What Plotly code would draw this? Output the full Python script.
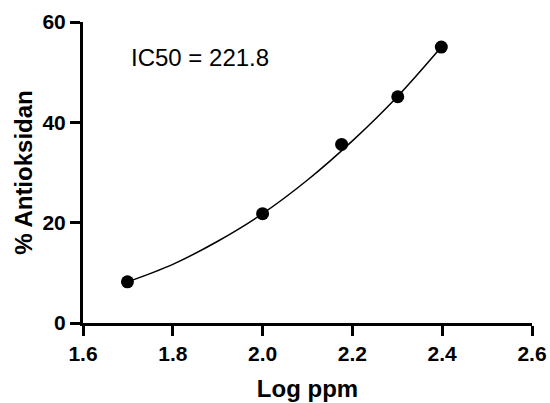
import plotly.graph_objects as go

# measured points
log_ppm = [1.699, 2.0, 2.176, 2.301, 2.398]
antioksidan = [8.2, 21.8, 35.6, 45.1, 55.0]

# fitted curve, values
fit_log_ppm = [1.699, 1.8, 1.9, 2.0, 2.1, 2.2, 2.3, 2.398]
fit_antioksidan = [8.2, 11.7, 16.3, 21.8, 28.5, 36.3, 45.1, 55.0]

x_ticks = [1.6, 1.8, 2.0, 2.2, 2.4, 2.6]
x_tick_labels = ["1.6", "1.8", "2.0", "2.2", "2.4", "2.6"]
y_ticks = [0, 20, 40, 60]
y_tick_labels = ["0", "20", "40", "60"]

annotation_text = "IC50 = 221.8"

fig = go.Figure()
fig.add_trace(go.Scatter(
    x=fit_log_ppm, y=fit_antioksidan, mode="lines",
    line=dict(color="black", width=1.5, shape="spline", smoothing=1.0),
    hoverinfo="skip", showlegend=False,
))
fig.add_trace(go.Scatter(
    x=log_ppm, y=antioksidan, mode="markers",
    marker=dict(color="black", size=13),
    showlegend=False,
))

tick_font = dict(family="Liberation Sans", size=21, color="black", weight="bold")
title_font = dict(family="Liberation Sans", size=24, color="black")

fig.update_layout(
    width=550, height=403,
    margin=dict(l=83, r=18, t=22, b=80),
    plot_bgcolor="white", paper_bgcolor="white",
    font=dict(family="Liberation Sans", color="black"),
    xaxis=dict(
        range=[1.6, 2.6], tickvals=x_ticks,
        ticktext=["<b>%s</b>" % t for t in x_tick_labels],
        showgrid=False, zeroline=False, showline=True, linecolor="black", linewidth=3,
        ticks="outside", ticklen=10, tickwidth=3, tickcolor="black",
        tickfont=tick_font, automargin=False,
        title=dict(text="<b>Log ppm</b>", font=title_font, standoff=16),
    ),
    yaxis=dict(
        range=[0, 60], tickvals=y_ticks,
        ticktext=["<b>%s</b>" % t for t in y_tick_labels],
        showgrid=False, zeroline=False, showline=True, linecolor="black", linewidth=3,
        ticks="outside", ticklen=10, tickwidth=3, tickcolor="black",
        tickfont=tick_font, automargin=False,
        title=dict(text="<b>% Antioksidan</b>", font=title_font, standoff=4),
    ),
    annotations=[dict(
        x=0.1024, xref="paper", y=52.9, yref="y", xanchor="left", yanchor="middle",
        text=annotation_text, showarrow=False,
        font=dict(family="Liberation Sans", size=24, color="black"),
    )],
)

fig.write_html("out.html")
